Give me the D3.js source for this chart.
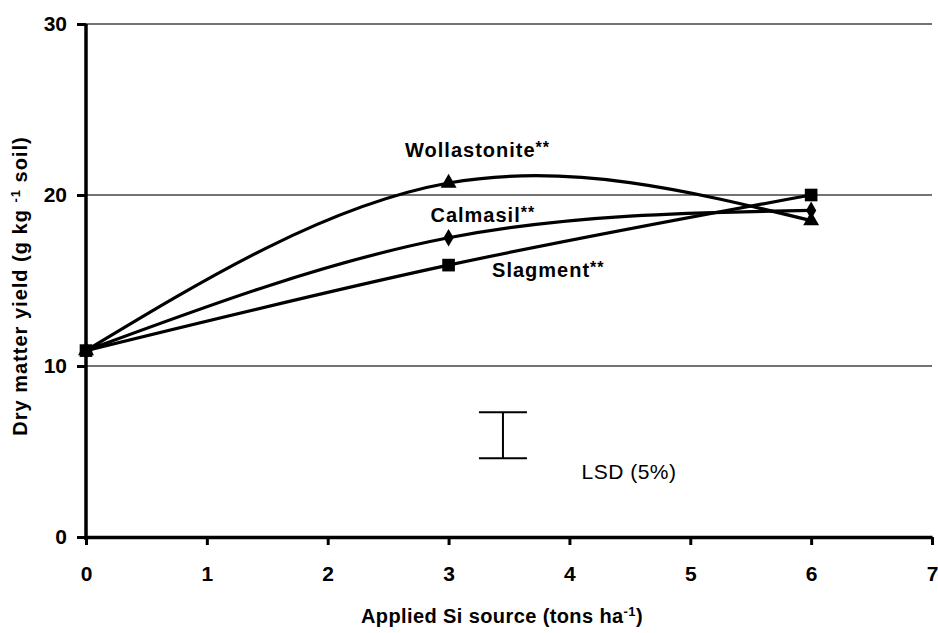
<!DOCTYPE html>
<html>
<head>
<meta charset="utf-8">
<script src="https://cdn.jsdelivr.net/npm/d3@7"></script>
<style>
  body { margin: 0; background: #fff; }
  text { font-family: Arial, "Liberation Sans", sans-serif; }
</style>
</head>
<body>
<svg id="chart"></svg>
<script>
// Data
const rates = [0, 3, 6];
const wollastonite = [10.9, 20.7, 18.5];
const calmasil = [10.9, 17.5, 19.1];
const slagment = [10.9, 15.9, 20.0];
const xTicks = [0, 1, 2, 3, 4, 5, 6, 7];
const yTicks = [0, 10, 20, 30];
const lsd = [4.6, 7.3];   // LSD bar bottom / top
const lsdX = 3.45;

// Set up margins and dimensions
const margin = { top: 24, right: 6, bottom: 96, left: 86 };
const width = 938 - margin.left - margin.right;
const height = 633 - margin.top - margin.bottom;

const svg = d3.select("#chart")
  .attr("width", width + margin.left + margin.right)
  .attr("height", height + margin.top + margin.bottom)
  .append("g")
  .attr("transform", "translate(" + margin.left + "," + margin.top + ")");

const xScale = d3.scaleLinear().domain([0, 7]).range([0, 846]);
const yScale = d3.scaleLinear().domain([0, 30]).range([height, 0]);

// Gridlines
svg.selectAll(".grid")
  .data(yTicks.filter(d => d > 0))
  .enter().append("line")
  .attr("x1", 0)
  .attr("x2", width)
  .attr("y1", d => yScale(d))
  .attr("y2", d => yScale(d))
  .attr("stroke", "#444")
  .attr("stroke-width", 1.3);

// Axes
const xAxis = d3.axisBottom(xScale).tickValues(xTicks).tickFormat(d3.format("d"))
  .tickSize(8).tickPadding(21).tickSizeOuter(0);
const yAxis = d3.axisLeft(yScale).tickValues(yTicks).tickFormat(d3.format("d"))
  .tickSize(9).tickPadding(10).tickSizeOuter(0);

const gx = svg.append("g")
  .attr("transform", "translate(0," + height + ")")
  .call(xAxis);
const gy = svg.append("g").call(yAxis);

[gx, gy].forEach(g => {
  g.select(".domain").attr("stroke", "#000").attr("stroke-width", 3.5);
  g.selectAll(".tick line").attr("stroke", "#000").attr("stroke-width", 3);
  g.selectAll(".tick text")
    .attr("fill", "#000")
    .style("font-size", "21px")
    .style("font-weight", "bold");
});
gy.select(".domain").attr("d", "M0," + (height + 3) + "V0");

// Series curves
const line = d3.line()
  .x((d, i) => xScale(rates[i]))
  .y(d => yScale(d))
  .curve(d3.curveNatural);

const series = [
  { name: "Wollastonite", values: wollastonite, symbol: d3.symbolTriangle, size: 110 },
  { name: "Calmasil", values: calmasil, symbol: d3.symbolDiamond, size: 90 },
  { name: "Slagment", values: slagment, symbol: d3.symbolSquare, size: 160 }
];

series.forEach(s => {
  svg.append("path")
    .datum(s.values)
    .attr("fill", "none")
    .attr("stroke", "#000")
    .attr("stroke-width", 3.2)
    .attr("d", line);

  svg.selectAll(".pt-" + s.name)
    .data(s.values)
    .enter().append("path")
    .attr("transform", (d, i) => "translate(" + xScale(rates[i]) + "," + yScale(d) + ")")
    .attr("d", d3.symbol().type(s.symbol).size(s.size))
    .attr("fill", "#000");
});

// Series labels
const labels = [
  { text: "Wollastonite", x: 2.64, y: 22.2 },
  { text: "Calmasil", x: 2.85, y: 18.4 },
  { text: "Slagment", x: 3.36, y: 15.2 }
];
labels.forEach(l => {
  const t = svg.append("text")
    .attr("x", xScale(l.x))
    .attr("y", yScale(l.y))
    .style("font-size", "20px")
    .style("font-weight", "bold")
    .style("letter-spacing", "1px")
    .text(l.text);
  t.append("tspan")
    .attr("dy", -4)
    .style("font-size", "16px")
    .text("**");
});

// LSD bar
svg.append("line")
  .attr("x1", xScale(lsdX)).attr("x2", xScale(lsdX))
  .attr("y1", yScale(lsd[0])).attr("y2", yScale(lsd[1]))
  .attr("stroke", "#000").attr("stroke-width", 2);
svg.selectAll(".lsdcap")
  .data(lsd)
  .enter().append("line")
  .attr("x1", xScale(lsdX) - 24).attr("x2", xScale(lsdX) + 24)
  .attr("y1", d => yScale(d)).attr("y2", d => yScale(d))
  .attr("stroke", "#000").attr("stroke-width", 2);
svg.append("text")
  .attr("x", xScale(4.1))
  .attr("y", yScale(3.4))
  .style("font-size", "21px")
  .style("letter-spacing", "0.5px")
  .text("LSD (5%)");

// Axis titles
const xt = svg.append("text")
  .attr("x", 416)
  .attr("y", height + 86)
  .attr("text-anchor", "middle")
  .style("font-size", "20px")
  .style("font-weight", "bold")
  .style("letter-spacing", "0.4px")
  .text("Applied Si source (tons ha");
xt.append("tspan").attr("dy", -7).style("font-size", "13px").text("-1");
xt.append("tspan").attr("dy", 7).text(")");

const yt = svg.append("text")
  .attr("transform", "translate(-59," + (286 - margin.top) + ") rotate(-90)")
  .attr("text-anchor", "middle")
  .style("font-size", "20px")
  .style("font-weight", "bold")
  .style("letter-spacing", "1px")
  .text("Dry matter yield (g kg ");
yt.append("tspan").attr("dy", -7).style("font-size", "13px").text("-1");
yt.append("tspan").attr("dy", 7).text(" soil)");
</script>
</body>
</html>
